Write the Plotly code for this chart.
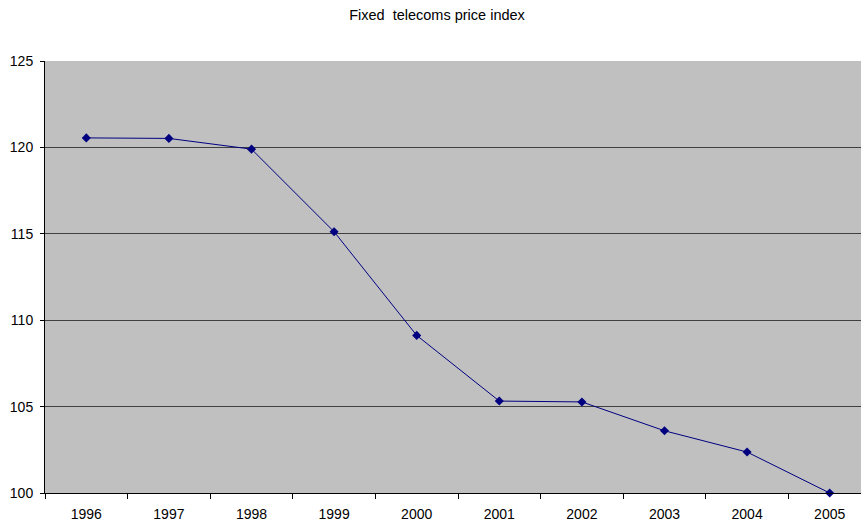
import plotly.graph_objects as go

years = ["1996", "1997", "1998", "1999", "2000", "2001", "2002", "2003", "2004", "2005"]
index_values = [120.55, 120.52, 119.9, 115.12, 109.12, 105.32, 105.27, 103.6, 102.37, 100.0]

fig = go.Figure()
fig.add_trace(go.Scatter(
    x=years, y=index_values, mode="lines+markers",
    line=dict(color="#000080", width=1),
    marker=dict(symbol="diamond", size=7, color="#000080"),
    showlegend=False, cliponaxis=False,
))

fig.update_layout(
    width=861, height=525,
    margin=dict(l=45, r=0, t=61, b=32),
    paper_bgcolor="white", plot_bgcolor="#C0C0C0",
    font=dict(family="Liberation Sans, Arial, sans-serif", size=14, color="black"),
    title=dict(text="Fixed  telecoms price index", x=437/861, xanchor="center",
               y=1 - 15/525, yanchor="middle",
               font=dict(size=14.5, color="black")),
)
fig.update_xaxes(
    type="category", range=[-0.5, 9.379], tickson="boundaries",
    ticks="outside", ticklen=5, tickcolor="black", tickwidth=1,
    showline=True, linecolor="black", linewidth=1, showgrid=False,
    tickfont=dict(size=14), ticklabelstandoff=8,
)
fig.update_yaxes(
    range=[100, 125], dtick=5, tick0=100,
    ticks="outside", ticklen=4, tickcolor="black",
    showline=True, linecolor="black", linewidth=1,
    showgrid=True, gridcolor="#404040", gridwidth=1, zeroline=False,
    tickfont=dict(size=14), ticklabelstandoff=4,
)
fig.write_html("out.html", config={"displayModeBar": False},
               post_script="document.body.style.margin='0';document.body.style.overflow='hidden';")
